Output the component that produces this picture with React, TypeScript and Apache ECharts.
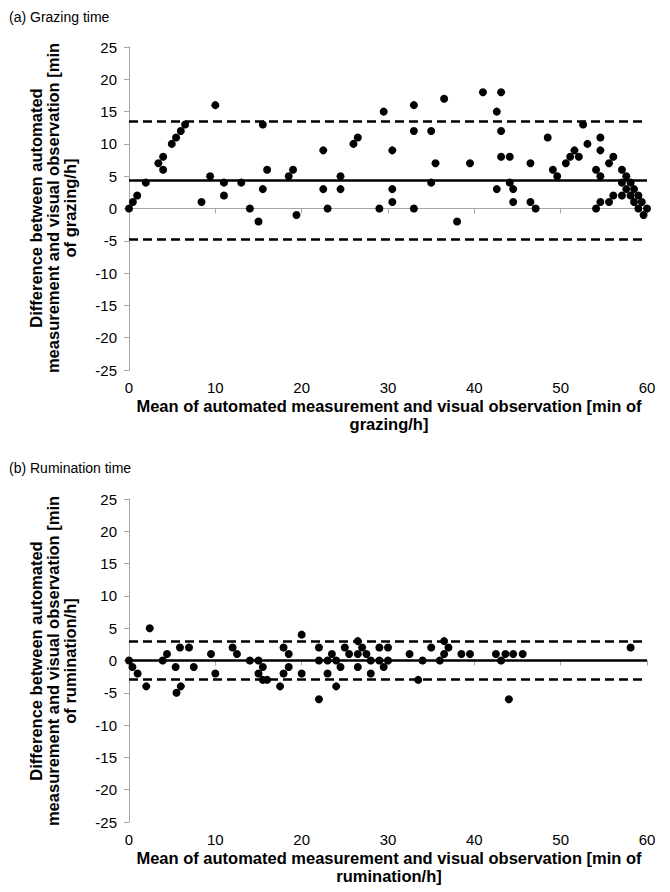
import React, { useEffect, useRef } from "react";
import * as echarts from "echarts";

const grazingX = [0, 0.45, 0.95, 1.95, 3.4, 3.95, 3.95, 4.95, 5.45, 6.0, 6.5, 8.4, 9.4, 10.0, 11.0, 11.0, 13.0, 14.0, 15.0, 15.5, 15.5, 16.0, 18.5, 19.0, 19.4, 22.5, 22.5, 23.0, 24.5, 24.5, 26.0, 26.5, 29.0, 29.5, 30.5, 30.5, 30.5, 33.0, 33.0, 33.0, 35.0, 35.0, 35.5, 36.5, 38.0, 39.5, 41.0, 42.6, 43.1, 43.1, 43.1, 42.6, 44.1, 44.1, 44.5, 44.5, 46.5, 46.5, 47.1, 48.5, 49.1, 49.6, 50.6, 51.1, 51.6, 52.1, 52.6, 53.1, 54.1, 54.1, 54.6, 54.6, 54.6, 54.6, 55.6, 56.1, 55.6, 56.1, 57.1, 57.6, 57.1, 58.1, 57.6, 58.5, 57.1, 58.1, 59.0, 58.5, 59.0, 59.4, 59.6, 60.0];
const grazingY = [0, 1, 2, 4, 7, 8, 6, 10, 11, 12, 13, 1, 5, 16, 4, 2, 4, 0, -2, 3, 13, 6, 5, 6, -1, 9, 3, 0, 5, 3, 10, 11, 0, 15, 9, 3, 1, 16, 12, 0, 12, 4, 7, 17, -2, 7, 18, 15, 18, 12, 8, 3, 8, 4, 3, 1, 7, 1, 0, 11, 6, 5, 7, 8, 9, 8, 13, 10, 6, 0, 11, 9, 5, 1, 7, 8, 1, 2, 6, 5, 4, 4, 3, 3, 2, 2, 2, 1, 0, 1, -1, 0];

const ruminationX = [0, 0.4, 1.0, 2.0, 2.4, 3.9, 4.4, 5.4, 5.5, 5.9, 6.0, 6.95, 7.5, 9.5, 10.0, 12.0, 12.5, 14.0, 15.0, 15.5, 15.0, 15.5, 16.0, 17.5, 17.9, 18.5, 18.5, 17.9, 20.0, 20.0, 22.0, 22.0, 22.0, 23.0, 23.0, 23.5, 24.0, 24.0, 24.5, 25.0, 25.5, 26.5, 26.5, 26.5, 27.0, 27.5, 28.0, 28.0, 29.0, 29.0, 30.0, 30.0, 29.5, 32.5, 34.0, 33.5, 35.0, 36.0, 36.5, 36.5, 37.0, 38.5, 39.5, 42.5, 43.1, 43.6, 44.0, 44.5, 45.6, 58.1];
const ruminationY = [0, -1, -2, -4, 5, 0, 1, -1, -5, 2, -4, 2, -1, 1, -2, 2, 1, 0, 0, -1, -2, -3, -3, -4, 2, 1, -1, -2, 4, -2, 2, 0, -6, -2, 0, 1, 0, -4, -1, 2, 1, 3, 1, -1, 2, 1, 0, -2, 2, 0, 2, 0, -1, 1, 0, -3, 2, 0, 1, 3, 2, 1, 1, 1, 0, 1, -6, 1, 1, 2];

// mean difference, upper and lower limits of agreement
const grazingLines = [4.4, 13.5, -4.7];
const ruminationLines = [0, 3.0, -2.9];

const xTicks = { min: 0, max: 60, interval: 10 };
const yTicks = { min: -25, max: 25, interval: 5 };

const FONT = "'Liberation Sans', Arial, sans-serif";

function pairs(xs: number[], ys: number[]) {
  return xs.map((x, i) => [x, ys[i]]);
}

export default function App() {
  const ref = useRef<HTMLDivElement>(null);
  useEffect(() => {
    if (!ref.current) return;
    const chart = echarts.init(ref.current, undefined, { renderer: "svg" });
    const axisLine = { show: true, lineStyle: { color: "#a6a6a6", width: 1 } };
    const axisTick = { show: true, length: 5, lineStyle: { color: "#a6a6a6" } };
    const axisLabel = { color: "#000", fontSize: 15, fontFamily: FONT, margin: 10 };
    const mkX = (gi: number) => ({
      type: "value", gridIndex: gi, ...xTicks,
      axisLine, axisTick, axisLabel, splitLine: { show: false },
    });
    const mkY = (gi: number) => ({
      type: "value", gridIndex: gi, ...yTicks,
      axisLine, axisTick, axisLabel: { ...axisLabel, margin: 12 }, splitLine: { show: false },
    });
    const mkLines = (vals: number[]) => ({
      silent: true,
      symbol: "none",
      label: { show: false },
      data: vals.map((v, i) => ({
        yAxis: v,
        lineStyle: { color: "#000", width: 2.5, type: i === 0 ? "solid" : [9, 5] },
      })),
    });
    const yTitle = (cx: number, cy: number, last: string) => ({
      type: "text", x: cx, y: cy, rotation: Math.PI / 2,
      style: {
        text: "Difference between automated\nmeasurement and visual observation [min\n" + last,
        font: `bold 16.5px ${FONT}`, fill: "#000", textAlign: "center", textVerticalAlign: "middle", lineHeight: 17,
      },
    });
    const xTitle = (cx: number, cy: number, last: string) => ({
      type: "text", x: cx, y: cy,
      style: {
        text: "Mean of automated measurement and visual observation [min of\n" + last,
        font: `bold 16.5px ${FONT}`, fill: "#000", textAlign: "center", textVerticalAlign: "top", lineHeight: 18,
      },
    });
    chart.setOption({
      animation: false,
      backgroundColor: "#fff",
      grid: [
        { left: 129, right: 23, top: 47, height: 323 },
        { left: 129, right: 23, top: 499, height: 323 },
      ],
      xAxis: [mkX(0), mkX(1)],
      yAxis: [mkY(0), mkY(1)],
      series: [
        {
          type: "scatter", xAxisIndex: 0, yAxisIndex: 0, symbolSize: 8,
          itemStyle: { color: "#000", opacity: 1 }, data: pairs(grazingX, grazingY),
          markLine: mkLines(grazingLines), z: 3,
        },
        {
          type: "scatter", xAxisIndex: 1, yAxisIndex: 1, symbolSize: 8,
          itemStyle: { color: "#000", opacity: 1 }, data: pairs(ruminationX, ruminationY),
          markLine: mkLines(ruminationLines), z: 3,
        },
      ],
      graphic: [
        { type: "text", x: 9, y: 17, style: { text: "(a) Grazing time", font: `14px ${FONT}`, fill: "#000", textVerticalAlign: "middle" } },
        { type: "text", x: 9, y: 468, style: { text: "(b) Rumination time", font: `14px ${FONT}`, fill: "#000", textVerticalAlign: "middle" } },
        yTitle(53, 208, "of grazing/h]"),
        yTitle(53, 661, "of rumination/h]"),
        xTitle(389, 397, "grazing/h]"),
        xTitle(389, 849, "rumination/h]"),
      ],
    });
    return () => chart.dispose();
  }, []);
  return <div ref={ref} style={{ position: "fixed", left: 0, top: 0, width: 670, height: 892 }} />;
}
